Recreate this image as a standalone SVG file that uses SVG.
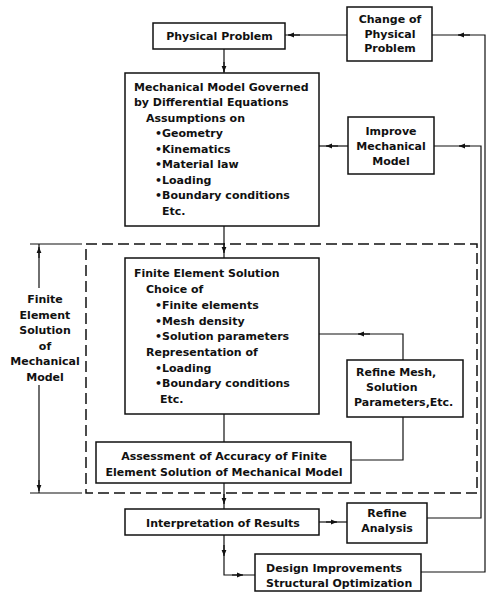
<svg xmlns="http://www.w3.org/2000/svg" width="486" height="593" viewBox="0 0 486 593">
<style>
.box{fill:#fff;stroke:#111;stroke-width:1.5}
.ln{fill:none;stroke:#111;stroke-width:1.2}
.ar{fill:none;stroke:#111;stroke-width:1.2;marker-end:url(#ah)}
.dash{fill:none;stroke:#111;stroke-width:1.5;stroke-dasharray:11 5}
text{font-family:"DejaVu Sans","Liberation Sans",sans-serif;font-weight:bold;font-size:11px;fill:#111}
.c{text-anchor:middle}
</style>
<defs>
<marker id="ah" viewBox="0 0 6 6" refX="6" refY="3" markerWidth="6" markerHeight="6" markerUnits="userSpaceOnUse" orient="auto">
<path d="M0,0.6 L6,3 L0,5.4 z" fill="#111"/>
</marker>
</defs>
<rect width="486" height="593" fill="#fff"/>

<g id="connectors">
<path class="ln" d="M224 49 V73"/>
<path class="ar" d="M224 62 V72"/>
<path class="ln" d="M347 35 H285"/>
<path class="ar" d="M300 35 H288"/>
<path class="ln" d="M421 572 H485 V35 H432"/>
<path class="ar" d="M470 35 H458"/>
<path class="ln" d="M348 146 H319"/>
<path class="ar" d="M338 146 H326"/>
<path class="ln" d="M427 518 H481 V146 H434"/>
<path class="ar" d="M470 146 H459"/>
<path class="ln" d="M224 226 V258"/>
<path class="ar" d="M224 243 V253"/>
<path class="ln" d="M224 414 V442"/>
<path class="ln" d="M403 360 V334 H319"/>
<path class="ar" d="M370 334 H358"/>
<path class="ln" d="M403 417 V460 H351"/>
<path class="ln" d="M224 483 V509"/>
<path class="ar" d="M224 494 V504"/>
<path class="ln" d="M319 522 H347"/>
<path class="ar" d="M326 522 H337"/>
<path class="ln" d="M224 535 V575 H255"/>
<path class="ar" d="M224 545 V556"/>
<path class="ar" d="M232 575 H243"/>
</g>

<g id="fe-region">
<rect class="dash" x="86" y="244" width="391" height="249"/>
<path class="ln" d="M30 244 H82 M30 493 H82 M39 288 V244 M39 385 V493"/>
<path class="ar" d="M39 258 V247"/>
<path class="ar" d="M39 480 V491"/>
<text class="c" x="45" y="303">Finite</text>
<text class="c" x="45" y="318.5">Element</text>
<text class="c" x="45" y="334">Solution</text>
<text class="c" x="45" y="349.5">of</text>
<text class="c" x="45" y="365">Mechanical</text>
<text class="c" x="45" y="380.5">Model</text>
</g>

<g id="physical-problem">
<rect class="box" x="153" y="23" width="132" height="26"/>
<text class="c" x="219.5" y="40">Physical Problem</text>
</g>

<g id="change-physical-problem">
<rect class="box" x="347" y="7" width="85" height="54"/>
<text class="c" x="390" y="23">Change of</text>
<text class="c" x="390" y="38">Physical</text>
<text class="c" x="390" y="52">Problem</text>
</g>

<g id="mechanical-model">
<rect class="box" x="125" y="73" width="194" height="153"/>
<text x="134" y="91">Mechanical Model Governed</text>
<text x="134" y="106">by Differential Equations</text>
<text x="146" y="122">Assumptions on</text>
<text x="155" y="137">•Geometry</text>
<text x="155" y="153">•Kinematics</text>
<text x="155" y="168">•Material law</text>
<text x="155" y="184">•Loading</text>
<text x="155" y="199">•Boundary conditions</text>
<text x="162" y="215">Etc.</text>
</g>

<g id="improve-model">
<rect class="box" x="348" y="117" width="86" height="57"/>
<text class="c" x="391" y="135">Improve</text>
<text class="c" x="391" y="150">Mechanical</text>
<text class="c" x="391" y="165">Model</text>
</g>

<g id="fe-solution">
<rect class="box" x="125" y="258" width="194" height="156"/>
<text x="134" y="277">Finite Element Solution</text>
<text x="146" y="293">Choice of</text>
<text x="155" y="309">•Finite elements</text>
<text x="155" y="325">•Mesh density</text>
<text x="155" y="340">•Solution parameters</text>
<text x="146" y="356">Representation of</text>
<text x="155" y="372">•Loading</text>
<text x="155" y="387">•Boundary conditions</text>
<text x="160" y="403">Etc.</text>
</g>

<g id="refine-mesh">
<rect class="box" x="347" y="360" width="116" height="57"/>
<text x="356" y="376">Refine Mesh,</text>
<text x="366" y="391">Solution</text>
<text x="354" y="406">Parameters,Etc.</text>
</g>

<g id="assessment">
<rect class="box" x="96" y="442" width="255" height="41"/>
<text class="c" x="224" y="460">Assessment of Accuracy of Finite</text>
<text class="c" x="224" y="476">Element Solution of Mechanical Model</text>
</g>

<g id="interpretation">
<rect class="box" x="125" y="509" width="194" height="26"/>
<text class="c" x="223" y="527">Interpretation of Results</text>
</g>

<g id="refine-analysis">
<rect class="box" x="347" y="503" width="80" height="40"/>
<text class="c" x="387" y="517">Refine</text>
<text class="c" x="387" y="532">Analysis</text>
</g>

<g id="design-improvements">
<rect class="box" x="255" y="554" width="166" height="37"/>
<text x="266" y="572">Design Improvements</text>
<text x="266" y="587">Structural Optimization</text>
</g>
</svg>
